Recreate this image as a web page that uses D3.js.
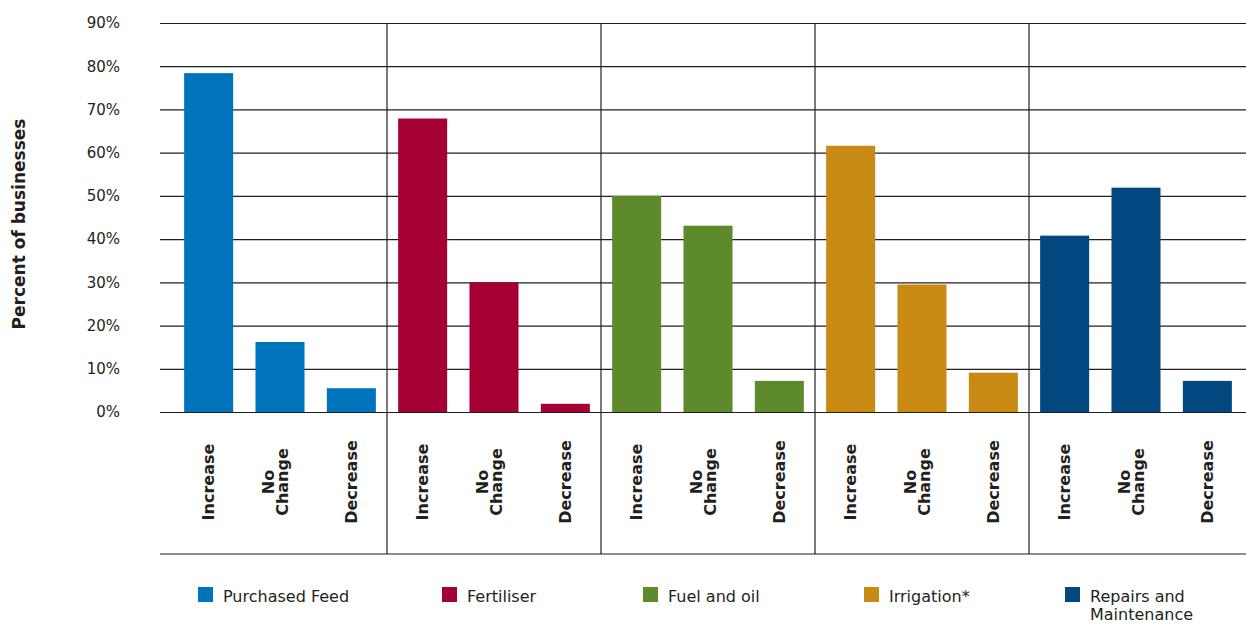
<!DOCTYPE html>
<html>
<head>
<meta charset="utf-8">
<script src="https://cdn.jsdelivr.net/npm/d3@7"></script>
<style>
  html, body { margin: 0; padding: 0; background: #fff; }
  svg { display: block; }
  text { font-family: "DejaVu Sans", Verdana, sans-serif; fill: #231f20; }
</style>
</head>
<body>
<svg id="chart" width="1246" height="624"></svg>
<script>
// Input cost categories and the response options asked for each
const categories = ["Purchased Feed", "Fertiliser", "Fuel and oil", "Irrigation*", "Repairs and Maintenance"];
const responses = ["Increase", "No Change", "Decrease"];

// Percent of businesses giving each response, per category
const increaseValues = [78.4, 67.9, 50.0, 61.6, 40.8];
const noChangeValues = [16.2, 30.0, 43.1, 29.5, 51.9];
const decreaseValues = [5.5, 1.9, 7.2, 9.1, 7.2];

// Y axis ticks (percent)
const yTicks = [0, 10, 20, 30, 40, 50, 60, 70, 80, 90];

const colors = ["#0073bd", "#a50034", "#5d8a2a", "#c98a13", "#00487f"];

// Layout
const W = 1246, H = 624;
const plotLeft = 173, plotRight = 1243;
const gridLeft = 160, gridRight = 1246;
const plotTop = 23, plotBottom = 412, frameBottom = 554;
const legendX = [198, 442, 643, 864, 1065];
const legendY = 587;
const lineColor = "#231f20";

const svg = d3.select("#chart");

const rows = categories.map((c, i) => ({
  category: c,
  color: colors[i],
  values: [increaseValues[i], noChangeValues[i], decreaseValues[i]]
}));

const x0 = d3.scaleBand().domain(categories).range([plotLeft, plotRight]).padding(0);
const x1 = d3.scaleBand().domain(responses).range([0, x0.bandwidth()])
  .paddingInner(0.313).paddingOuter(0.156);
const y = d3.scaleLinear().domain([0, 90]).range([plotBottom, plotTop]);

// Gridlines and tick labels
const yAxis = d3.axisLeft(y)
  .tickValues(yTicks)
  .tickFormat(d => d + "%")
  .tickSizeInner(-(gridRight - gridLeft))
  .tickSizeOuter(0)
  .tickPadding(40);

const gy = svg.append("g")
  .attr("transform", `translate(${gridLeft},0)`)
  .call(yAxis);
gy.select(".domain").remove();
gy.selectAll(".tick line").attr("stroke", lineColor).attr("stroke-width", 1.2);
gy.selectAll(".tick text")
  .attr("font-family", "DejaVu Sans, sans-serif")
  .attr("font-size", 15)
  .attr("fill", "#2b2b2b");

// Bottom frame line
svg.append("line")
  .attr("x1", gridLeft).attr("x2", gridRight)
  .attr("y1", frameBottom).attr("y2", frameBottom)
  .attr("stroke", lineColor).attr("stroke-width", 1.2);

// Separators between categories
svg.append("g").selectAll("line")
  .data(categories.slice(1))
  .join("line")
  .attr("x1", d => x0(d)).attr("x2", d => x0(d))
  .attr("y1", plotTop).attr("y2", frameBottom)
  .attr("stroke", lineColor).attr("stroke-width", 1.2);

// Bars
const groups = svg.append("g").selectAll("g")
  .data(rows)
  .join("g")
  .attr("transform", d => `translate(${x0(d.category)},0)`);

groups.selectAll("rect")
  .data(d => d.values.map((v, j) => ({ response: responses[j], value: v, color: d.color })))
  .join("rect")
  .attr("x", d => x1(d.response))
  .attr("width", x1.bandwidth())
  .attr("y", d => y(d.value))
  .attr("height", d => y(0) - y(d.value))
  .attr("fill", d => d.color);

// Rotated response labels under each bar
const labelCenterY = 482;
const lh = 14.5;
groups.each(function () {
  const g = d3.select(this);
  responses.forEach(r => {
    const cx = x1(r) + x1.bandwidth() / 2;
    const lines = r.split(" ");
    const n = lines.length;
    lines.forEach((ln, i) => {
      const base = cx + 5.5 - (n - 1) * 12 + i * lh;
      g.append("text")
        .attr("transform", `translate(${base},${labelCenterY}) rotate(-90)`)
        .attr("text-anchor", "middle")
        .attr("font-size", 16)
        .attr("font-weight", "bold")
        .attr("fill", "#111")
        .text(ln);
    });
  });
});

// Y axis title
svg.append("text")
  .attr("transform", `translate(25,224) rotate(-90)`)
  .attr("text-anchor", "middle")
  .attr("font-size", 17)
  .attr("font-weight", "bold")
  .attr("fill", "#111")
  .text("Percent of businesses");

// Legend
const legend = svg.append("g").selectAll("g")
  .data(rows)
  .join("g")
  .attr("transform", (d, i) => `translate(${legendX[i]},${legendY})`);

legend.append("rect")
  .attr("width", 15).attr("height", 15)
  .attr("fill", d => d.color);

legend.each(function (d, i) {
  const g = d3.select(this);
  const tx = 25;
  const maxW = W - (legendX[i] + tx) - 4;
  const words = d.category.split(" ");
  const t = g.append("text")
    .attr("x", tx).attr("y", 14.7)
    .attr("font-size", 16);
  let line = [];
  let tspan = t.append("tspan").attr("x", tx).attr("dy", 0);
  words.forEach(w => {
    line.push(w);
    tspan.text(line.join(" "));
    if (tspan.node().getComputedTextLength() > maxW && line.length > 1) {
      line.pop();
      tspan.text(line.join(" "));
      line = [w];
      tspan = t.append("tspan").attr("x", tx).attr("dy", 18.5).text(w);
    }
  });
});
</script>
</body>
</html>
